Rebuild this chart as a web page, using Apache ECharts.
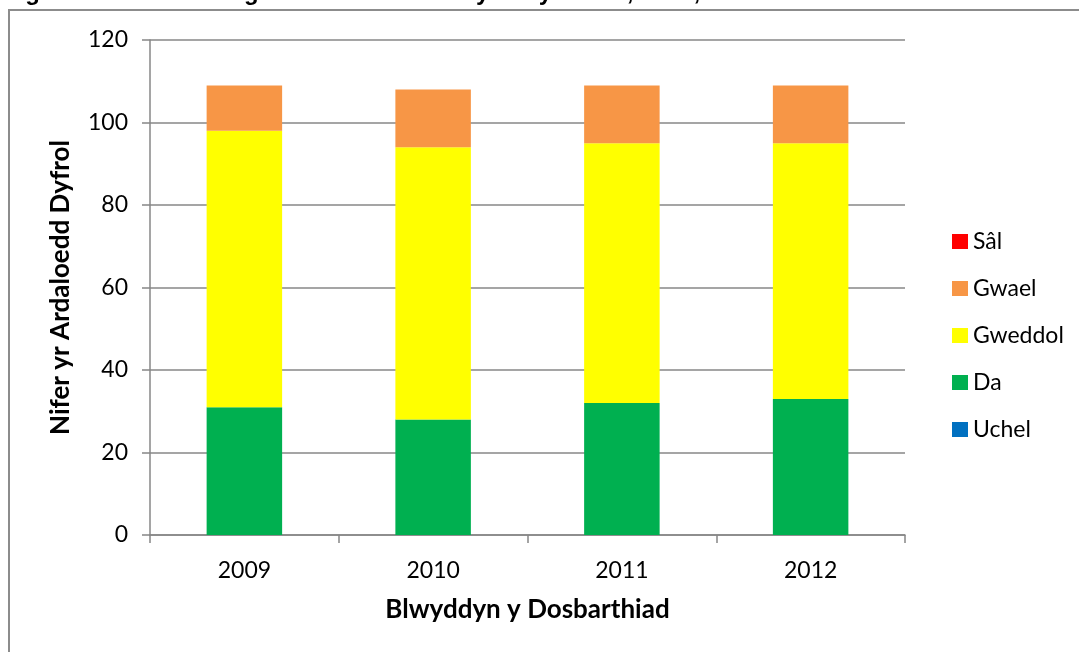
<!DOCTYPE html>
<html>
<head>
<meta charset="utf-8">
<script src="https://cdn.jsdelivr.net/npm/echarts@6/dist/echarts.min.js"></script>
<style>
  html, body { margin: 0; padding: 0; background: #fff; }
  #chart { width: 1079px; height: 652px; }
</style>
</head>
<body>
<div id="chart"></div>
<script>
const years = ['2009', '2010', '2011', '2012']
const uchel = [0, 0, 0, 0]
const da = [31, 28, 32, 33]
const gweddol = [67, 66, 63, 62]
const gwael = [11, 14, 14, 14]
const sal = [0, 0, 0, 0]
const yTicks = [0, 20, 40, 60, 80, 100, 120]

const gridColor = '#878787'
const myChart = echarts.init(document.getElementById('chart'))

function bar(name, data, color) {
  return {
    name: name,
    type: 'bar',
    stack: 'total',
    barWidth: '40%',
    data: data,
    itemStyle: { color: color },
  }
}

const option = {
  animation: false,
  textStyle: { fontFamily: 'Lato', color: '#000' },
  graphic: [
    {
      type: 'rect',
      shape: { x: 9, y: 10, width: 1200, height: 800 },
      style: { fill: 'none', stroke: '#8c8c8c', lineWidth: 2 },
    },
    {
      type: 'text',
      left: -4,
      top: -19,
      style: {
        text: 'Ffigur 4: Statws ecolegol ardaloedd dŵr wyneb yn 2009, 2010, 2011 a 2012',
        font: 'bold 24px "Liberation Sans"',
        fill: '#000',
      },
    },
  ],
  legend: {
    orient: 'vertical',
    left: 947,
    top: 225,
    itemWidth: 16,
    itemHeight: 15,
    itemGap: 24,
    icon: 'rect',
    textStyle: { fontFamily: 'Lato', fontSize: 23, color: '#000' },
    data: ['Sâl', 'Gwael', 'Gweddol', 'Da', 'Uchel'],
  },
  grid: { left: 150, right: 174, top: 40, bottom: 117 },
  xAxis: {
    type: 'category',
    data: years,
    name: 'Blwyddyn y Dosbarthiad',
    nameLocation: 'middle',
    nameGap: 62,
    nameTextStyle: { fontFamily: 'Lato', fontWeight: 'bold', fontSize: 26, color: '#000' },
    axisLine: { lineStyle: { color: gridColor, width: 1.5 } },
    axisTick: { show: true, length: 8, lineStyle: { color: gridColor, width: 1.5 } },
    axisLabel: { fontSize: 23, color: '#000', margin: 24 },
  },
  yAxis: {
    type: 'value',
    min: yTicks[0],
    max: yTicks[yTicks.length - 1],
    interval: yTicks[1] - yTicks[0],
    name: 'Nifer yr Ardaloedd Dyfrol',
    nameLocation: 'middle',
    nameGap: 76,
    nameTextStyle: { fontFamily: 'Lato', fontWeight: 'bold', fontSize: 26, color: '#000' },
    axisLine: { show: true, lineStyle: { color: gridColor, width: 1.5 } },
    axisTick: { show: true, length: 8, lineStyle: { color: gridColor, width: 1.5 } },
    axisLabel: { fontSize: 23, color: '#000', margin: 22 },
    splitLine: { lineStyle: { color: gridColor, width: 1.5 } },
  },
  series: [
    bar('Uchel', uchel, '#0070C0'),
    bar('Da', da, '#00B050'),
    bar('Gweddol', gweddol, '#FFFF00'),
    bar('Gwael', gwael, '#F79646'),
    bar('Sâl', sal, '#FF0000'),
  ],
}

myChart.setOption(option)
window.onresize = () => {
  myChart.resize()
}
</script>
</body>
</html>
